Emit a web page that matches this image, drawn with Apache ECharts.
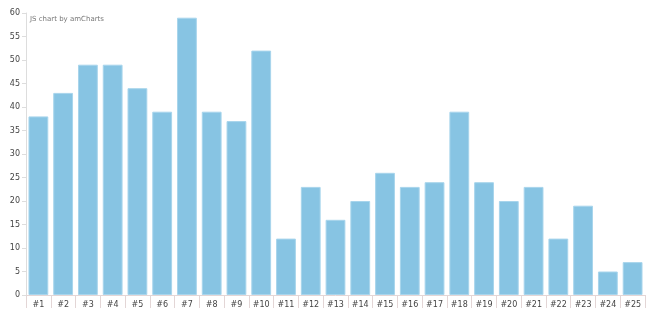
<!DOCTYPE html>
<html><head><meta charset="utf-8">
<script src="https://cdn.jsdelivr.net/npm/echarts@6/dist/echarts.min.js"></script>
<style>html,body{margin:0;padding:0;background:#fff}#c{width:658px;height:313px}</style>
</head><body><div id="c"></div>
<script>
const categories = ['#1','#2','#3','#4','#5','#6','#7','#8','#9','#10','#11','#12','#13','#14','#15','#16','#17','#18','#19','#20','#21','#22','#23','#24','#25'];
const values = [38,43,49,49,44,39,59,39,37,52,12,23,16,20,26,23,24,39,24,20,23,12,19,5,7];
const chart = echarts.init(document.getElementById('c'), null, {renderer:'canvas'});
chart.setOption({
  animation:false,
  title:{text:'JS chart by amCharts', left:25, top:11, textStyle:{fontFamily:'DejaVu Sans', fontSize:7, fontWeight:'normal', color:'#777'}},
  grid:{left:26, right:13, top:13, bottom:18},
  xAxis:{type:'category', data:categories,
    axisLine:{lineStyle:{color:'#e3d6d6'}},
    axisTick:{show:true, length:13, lineStyle:{color:'#e3d6d6'}},
    axisLabel:{fontFamily:'DejaVu Sans', fontSize:8, color:'#444', margin:6}
  },
  yAxis:{type:'value', min:0, max:60, interval:5,
    axisLine:{show:true, lineStyle:{color:'#ddd'}},
    axisTick:{show:true, length:4, lineStyle:{color:'#ddd'}},
    splitLine:{show:true, lineStyle:{color:'rgba(255,255,255,0.25)'}},
    axisLabel:{fontFamily:'DejaVu Sans', fontSize:8, color:'#444', margin:6}
  },
  series:[{type:'bar', data:values, barCategoryGap:'20%', z:1,
    itemStyle:{color:'#87c4e3', borderColor:'#a8d5ec', borderWidth:1}}]
});
</script></body></html>
